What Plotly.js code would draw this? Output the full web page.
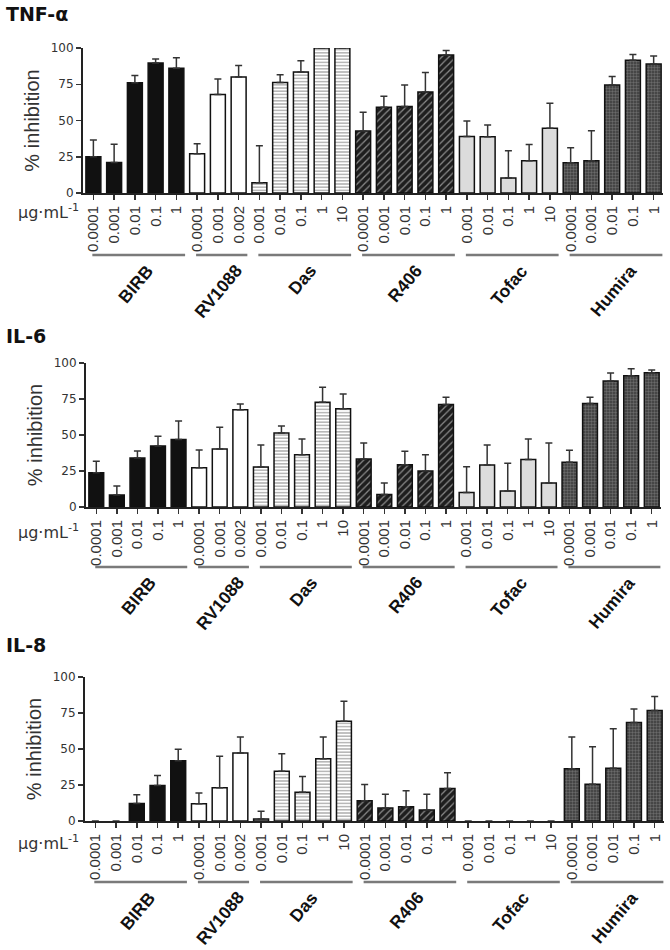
<!DOCTYPE html>
<html><head><meta charset="utf-8">
<script src="https://cdn.plot.ly/plotly-3.0.1.min.js"></script>
<style>body{margin:0;background:#fff}#chart{width:670px;height:950px}</style>
</head><body><div id="chart"></div>
<script>
// ---- data ----
const groups = ['BIRB','RV1088','Das','R406','Tofac','Humira'];
const concBIRB   = ['0.0001','0.001','0.01','0.1','1'];
const concRV1088 = ['0.0001','0.001','0.002'];
const concDas    = ['0.001','0.01','0.1','1','10'];
const concR406   = ['0.0001','0.001','0.01','0.1','1'];
const concTofac  = ['0.001','0.01','0.1','1','10'];
const concHumira = ['0.0001','0.001','0.01','0.1','1'];
const concLabels = [concBIRB, concRV1088, concDas, concR406, concTofac, concHumira];
const panelTitles = ['TNF-\u03b1','IL-6','IL-8'];
const unitLabel = '\u00b5g\u00b7mL<sup>-1</sup>';
const yTitle = '% inhibition';
const yTicks = [0,25,50,75,100];

const tnfMean = [[25,21,76,89.7,86],[27,68,80],[7,76.2,83.4,100,100],[42.7,59.1,59.6,69.7,95.2],[39,38.8,10.4,22.2,44.6],[20.8,22.2,74.4,91.5,88.9]];
const tnfErr  = [[11.5,12.6,5,2.7,7.3],[7,10.6,8],[25.6,5.3,7.8,0,0],[13,7.6,14.8,13.4,3],[10.7,8.1,18.7,11.3,17.3],[10.4,20.8,6,4.1,5.6]];
const il6Mean = [[23.8,8.3,34,42.4,46.8],[27.3,40.3,67.6],[27.8,51.4,36.3,72.7,68.3],[33.3,8.6,29.4,25,71.1],[10,29.2,11.1,32.9,16.7],[31,71.8,87.5,91.2,93.3]];
const il6Err  = [[7.9,6.3,4.9,6.7,12.9],[12.3,15,3.9],[15.3,4.9,10.9,10.4,10.2],[11.1,8.1,9.3,11.3,5.1],[18,13.9,19.2,14.3,27.7],[8.4,4.4,5.5,4.8,1.8]];
const il8Mean = [[0,0,12.2,24.7,41.8],[12,23.1,47.3],[1.4,34.6,19.9,43.2,69.3],[14.1,9,9.9,7.6,22.6],[0,0,0,0,0],[36.3,25.6,36.7,68.4,76.7]];
const il8Err  = [[0,0,6,6.9,8.1],[7.4,21.9,11.1],[5.3,12.1,11,15.2,13.8],[11.3,9.5,11.1,10.9,10.9],[0,0,0,0,0],[22.1,25.9,27.3,9.4,9.7]];
const panelMeans = [tnfMean, il6Mean, il8Mean];
const panelErrs  = [tnfErr, il6Err, il8Err];

// ---- styles / layout ----
const W = 670, H = 950;
const FONT = 'Liberation Sans, Arial, sans-serif';
const WIDEFONT = 'DejaVu Sans, Verdana, sans-serif';
const groupStyles = [
  {color:'#111111'},
  {color:'#ffffff'},
  {color:'#ffffff', pattern:{shape:'-', fgcolor:'#9a9a9a', bgcolor:'#ffffff', size:3.2, solidity:0.35}},
  {color:'#222222', pattern:{shape:'/', fgcolor:'#8a8a8a', bgcolor:'#1e1e1e', size:5, solidity:0.25}},
  {color:'#dcdcdc'},
  {color:'#444444', pattern:{shape:'.', fgcolor:'#6a6a6a', bgcolor:'#3a3a3a', size:3, solidity:0.5}}
];
const panels = [
  {top:48,  bottom:193, left:83, right:663, line:255, title:14,  unit:211},
  {top:363, bottom:507, left:86, right:661, line:567, title:336, unit:531},
  {top:677, bottom:821, left:85, right:664, line:882, title:645, unit:842}
];

// positions derived from group sizes
const starts = [];
let acc = 0;
concLabels.forEach(c => { starts.push(acc); acc += c.length; });
const nBars = acc;
const tickVals = [], tickText = [];
concLabels.forEach((c,g) => c.forEach((t,i) => { tickVals.push(starts[g]+i); tickText.push(t); }));

const traces = [];
const layout = {
  width: W, height: H, margin:{l:0,r:0,t:0,b:0},
  paper_bgcolor:'#ffffff', plot_bgcolor:'rgba(0,0,0,0)',
  showlegend:false, barmode:'overlay', bargap:0,
  shapes:[], annotations:[]
};

panels.forEach((P,k) => {
  const sx = k === 0 ? '' : String(k+1);
  const means = panelMeans[k], errs = panelErrs[k];
  groups.forEach((g,gi) => {
    const xs = concLabels[gi].map((_,i) => starts[gi]+i);
    const st = groupStyles[gi];
    const ys = means[gi];
    const marker = {color: st.color,
      line:{color:'#111', width: ys.map(v => v > 0 ? 1.5 : 0)}};
    if (st.pattern) marker.pattern = st.pattern;
    traces.push({
      type:'bar', x: xs, y: ys, width: 0.72,
      xaxis:'x'+sx, yaxis:'y'+sx, marker: marker, cliponaxis:false,
      error_y:{type:'data', symmetric:false,
               array: errs[gi].map((e,i) => ys[i] > 0 ? e : null),
               arrayminus: errs[gi].map((e,i) => ys[i] > 0 ? 0 : null),
               color:'#333', thickness:1.5, width:3.5},
      hoverinfo:'skip'
    });
    // group underline
    const x0 = xs[0] - 0.05, x1 = xs[xs.length-1] + 0.42;
    layout.shapes.push({type:'line', xref:'x'+sx, yref:'paper', x0:x0, x1:x1,
      y0: 1 - P.line/H, y1: 1 - P.line/H, line:{color:'#7a7a7a', width:2.5}});
    layout.annotations.push({xref:'x'+sx, yref:'paper', x:(x0+x1)/2, y:1-(P.line+3)/H,
      xanchor:'center', yanchor:'top', xshift:-3, showarrow:false, textangle:-50,
      text:g, font:{family:FONT, size:17.5, color:'#111', weight:'bold'}});
  });
  layout['xaxis'+sx] = {
    domain:[P.left/W, P.right/W], anchor:'y'+sx, range:[-0.5, nBars-0.55],
    tickmode:'array', tickvals:tickVals, ticktext:tickText, tickangle:-90,
    ticks:'outside', ticklen:5, tickwidth:1.5, tickcolor:'#333',
    showline:true, linecolor:'#222', linewidth:2, showgrid:false, zeroline:false,
    tickfont:{family:FONT, size:15, color:'#333'}, fixedrange:true
  };
  layout['yaxis'+sx] = {
    domain:[1-P.bottom/H, 1-P.top/H], anchor:'x'+sx, range:[0,100],
    tickmode:'array', tickvals:yTicks, ticks:'outside', ticklen:5, tickwidth:1.5, tickcolor:'#333',
    showline:true, linecolor:'#222', linewidth:2, showgrid:false, zeroline:false,
    tickfont:{family:WIDEFONT, size:12, color:'#333'}, fixedrange:true,
    title:{text:yTitle, font:{family:FONT, size:20, color:'#333'}, standoff:6}
  };
  layout.annotations.push({xref:'paper', yref:'paper', x:4/W, y:1-P.title/H,
    xanchor:'left', yanchor:'middle', showarrow:false, text:panelTitles[k],
    font:{family:WIDEFONT, size:19, color:'#111', weight:'bold'}});
  layout.annotations.push({xref:'paper', yref:'paper', x:81/W, y:1-P.unit/H,
    xanchor:'right', yanchor:'middle', showarrow:false, text:unitLabel,
    font:{family:WIDEFONT, size:16, color:'#333'}});
});

Plotly.newPlot('chart', traces, layout, {displayModeBar:false, staticPlot:true});
</script>
</body></html>
